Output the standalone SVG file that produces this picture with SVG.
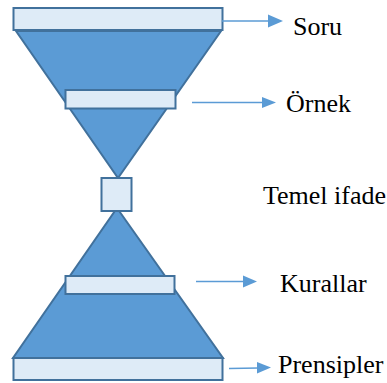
<svg xmlns="http://www.w3.org/2000/svg" width="387" height="383" viewBox="0 0 387 383">
  <defs>
    <style>
      .cone { fill: #5b9bd5; stroke: #41719c; stroke-width: 2; stroke-linejoin: miter; }
      .bar { fill: #deebf7; stroke: #41719c; stroke-width: 2; }
      .link { stroke: #5b9bd5; stroke-width: 1.3; fill: none; }
      .head { fill: #5b9bd5; }
      .label { font-size: 26px; fill: #000; }
    </style>
  </defs>

  <rect width="387" height="383" fill="#ffffff"/>

  <!-- hourglass body -->
  <g id="upper-cone">
    <polygon class="cone" points="16,31 221,31 118,178"/>
  </g>
  <g id="lower-cone">
    <polygon class="cone" points="117,208 223,358 13,358"/>
  </g>

  <!-- levels -->
  <g font-family="'Liberation Serif', 'DejaVu Serif', serif">
    <g id="soru">
      <rect class="bar" x="13.5" y="8" width="209" height="22"/>
      <text class="label" x="293" y="35">Soru</text>
    </g>
    <g id="ornek">
      <rect class="bar" x="65.5" y="90" width="110" height="18.5"/>
      <text class="label" x="286" y="112">Örnek</text>
    </g>
    <g id="temel-ifade">
      <rect class="bar" x="101.5" y="178" width="30" height="33"/>
      <text class="label" x="263" y="204">Temel ifade</text>
    </g>
    <g id="kurallar">
      <rect class="bar" x="65.5" y="276" width="109" height="18"/>
      <text class="label" x="280" y="292">Kurallar</text>
    </g>
    <g id="prensipler">
      <rect class="bar" x="13.5" y="358" width="209" height="22"/>
      <text class="label" x="278" y="373">Prensipler</text>
    </g>
  </g>

  <!-- connectors -->
  <g id="connectors">
    <line class="link" x1="222" y1="21" x2="270" y2="21"/>
    <polygon class="head" points="268,14.5 283,21 268,27.5"/>

    <line class="link" x1="192" y1="102.5" x2="264" y2="102.5"/>
    <polygon class="head" points="262,97 276,102.5 262,108"/>

    <line class="link" x1="196" y1="281.5" x2="245" y2="281.5"/>
    <polygon class="head" points="243,275.5 257,281.5 243,287.5"/>

    <line class="link" x1="229" y1="368.5" x2="259" y2="368"/>
    <polygon class="head" points="257,362 271,367.5 257,373.5"/>
  </g>
</svg>
